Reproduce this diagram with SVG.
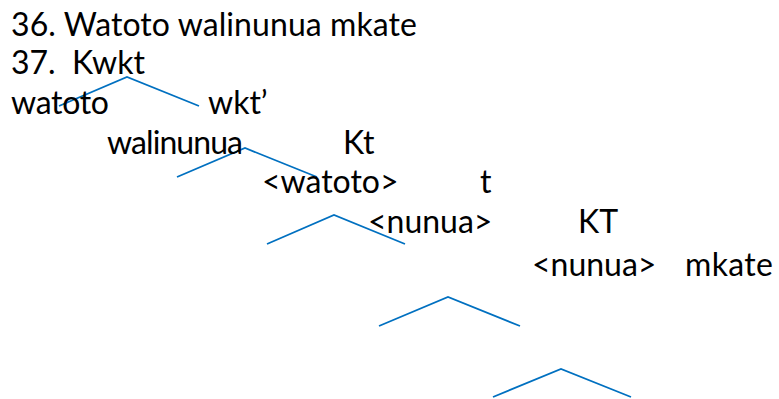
<svg xmlns="http://www.w3.org/2000/svg" width="779" height="399" viewBox="0 0 779 399">
<style>
.t{font-family:"Lato","Liberation Sans",sans-serif;font-size:32px;fill:#000}
.c{fill:none;stroke:#0070C0;stroke-width:1.8;stroke-linejoin:miter}
</style>
<rect width="779" height="399" fill="#fff"/>
<g id="title">
<text class="t" x="11" y="36" textLength="406" lengthAdjust="spacing">36. Watoto walinunua mkate</text>
<text class="t" x="11" y="74" xml:space="preserve">37.  Kwkt</text>
</g>
<g id="connectors">
<polyline class="c" points="59,106 127,77 199,106"/>
<polyline class="c" points="177,177 245,148 317,177"/>
<polyline class="c" points="267,244 334,215 405,244"/>
<polyline class="c" points="379,326 448,297 520,326"/>
<polyline class="c" points="493,397 561,369 631,397"/>
</g>
<g id="n-watoto"><text class="t" x="11" y="114" textLength="98" lengthAdjust="spacing">watoto</text></g>
<g id="n-wkt"><text class="t" x="208" y="114">wkt’</text></g>
<g id="n-walinunua"><text class="t" x="107" y="154" textLength="136" lengthAdjust="spacing">walinunua</text></g>
<g id="n-Kt"><text class="t" x="343" y="154">Kt</text></g>
<g id="n-watoto2"><text class="t" x="262" y="193">&lt;watoto&gt;</text></g>
<g id="n-t"><text class="t" x="480" y="193">t</text></g>
<g id="n-nunua"><text class="t" x="368" y="233">&lt;nunua&gt;</text></g>
<g id="n-KT"><text class="t" x="578" y="233">KT</text></g>
<g id="n-nunua2"><text class="t" x="532" y="276">&lt;nunua&gt;</text></g>
<g id="n-mkate"><text class="t" x="685" y="276" textLength="88" lengthAdjust="spacing">mkate</text></g>
</svg>
